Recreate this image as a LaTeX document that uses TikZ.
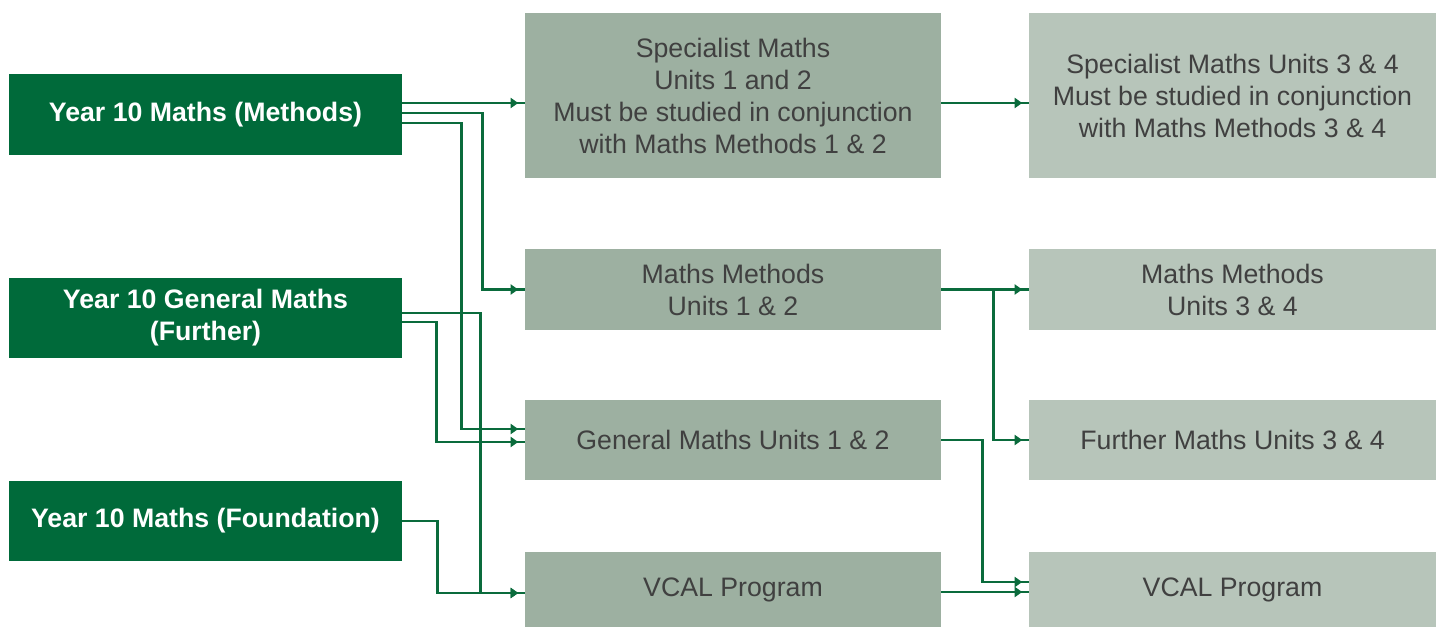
\documentclass[tikz,border=0pt]{standalone}
\usepackage{fontspec}
\setmainfont{Liberation Sans}
\usetikzlibrary{arrows.meta, decorations.markings}

\definecolor{yeargreen}{HTML}{006A3A}
\definecolor{flowgreen}{HTML}{0A6B3C}
\definecolor{unitgrey}{HTML}{9DB0A1}
\definecolor{latergrey}{HTML}{B7C5BA}
\definecolor{textgrey}{HTML}{404040}

\begin{document}
\begin{tikzpicture}[x=0.02cm, y=-0.02cm,
  yearbox/.style={fill=yeargreen, text=white, font=\fontsize{15.2}{18.2}\selectfont\bfseries,
    minimum width=7.86cm, minimum height=1.62cm, align=center, inner sep=0pt},
  unitbox/.style={fill=unitgrey, text=textgrey, font=\fontsize{15.2}{18.2}\selectfont,
    minimum width=8.32cm, align=center, inner sep=0pt},
  laterbox/.style={fill=latergrey, text=textgrey, font=\fontsize{15.2}{18.2}\selectfont,
    minimum width=8.14cm, align=center, inner sep=0pt},
  flow/.style={color=flowgreen, line width=1.5pt, postaction={decorate},
    decoration={markings, mark=at position -0.13cm with {\arrow{Triangle[length=0.15cm,width=0.2cm]}}}}]
  \useasboundingbox (0,0) rectangle (1436,628);

  % Year 10
  \node[yearbox] (ym) at (205.5,114.5) {Year 10 Maths (Methods)};
  \node[yearbox] (gy) at (205.5,318) {Year 10 General Maths\\(Further)};
  \node[yearbox] (fy) at (205.5,521) {Year 10 Maths (Foundation)};

  % Units 1 & 2
  \node[unitbox, minimum height=3.3cm] (sm12) at (733,95.5)
    {Specialist Maths\\Units 1 and 2\\Must be studied in conjunction\\with Maths Methods 1 \& 2};
  \node[unitbox, minimum height=1.62cm] (mm12) at (733,289.5) {Maths Methods\\Units 1 \& 2};
  \node[unitbox, minimum height=1.6cm] (gm12) at (733,440) {General Maths Units 1 \& 2};
  \node[unitbox, minimum height=1.5cm] (vc12) at (733,589.5) {VCAL Program};

  % Units 3 & 4
  \node[laterbox, minimum height=3.3cm] (sm34) at (1232.5,95.5)
    {Specialist Maths Units 3 \& 4\\Must be studied in conjunction\\with Maths Methods 3 \& 4};
  \node[laterbox, minimum height=1.62cm] (mm34) at (1232.5,289.5) {Maths Methods\\Units 3 \& 4};
  \node[laterbox, minimum height=1.6cm] (fm34) at (1232.5,440) {Further Maths Units 3 \& 4};
  \node[laterbox, minimum height=1.5cm] (vc34) at (1232.5,589.5) {VCAL Program};

  \coordinate (ym1) at ([yshift=0.23cm]ym.east);
  \coordinate (ym2) at ([yshift=0.03cm]ym.east);
  \coordinate (ym3) at ([yshift=-0.17cm]ym.east);
  \coordinate (gy1) at ([yshift=0.1cm]gy.east);
  \coordinate (gy2) at ([yshift=-0.08cm]gy.east);
  \coordinate (sp) at ([yshift=-0.15cm]sm12.east);
  \coordinate (vc) at ([yshift=-0.05cm]vc12.east);

  % into units 1 & 2
  \draw[flow] (ym1) -- (ym1 -| sm12.west);
  \draw[flow] (ym2) -- ++(80,0) |- (mm12.west);
  \draw[flow] (ym3) -- ++(59,0) |- ([yshift=0.22cm]gm12.west);
  \draw[flow] (gy1) -- ++(78,0) |- ([yshift=-0.07cm]vc12.west);
  \draw[flow] (gy2) -- ++(34,0) |- ([yshift=-0.04cm]gm12.west);
  \draw[flow] (fy.east) -- ++(35,0) |- ([yshift=-0.07cm]vc12.west);

  % into units 3 & 4
  \draw[flow] (sp) -- (sp -| sm34.west);
  \draw[flow] (mm12.east) -- (mm34.west);
  \draw[flow] (mm12.east) -- ++(52,0) |- (fm34.west);
  \draw[flow] (gm12.east) -- ++(41,0) |- ([yshift=0.15cm]vc34.west);
  \draw[flow] (vc) -- (vc -| vc34.west);
\end{tikzpicture}
\end{document}
